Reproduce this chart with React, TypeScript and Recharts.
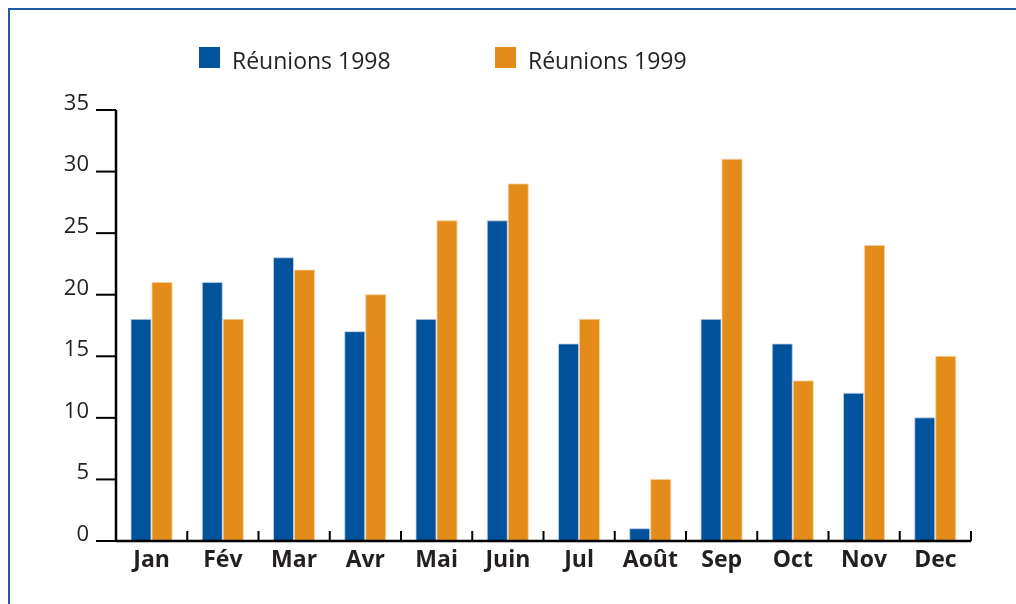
import { BarChart, Bar, XAxis, YAxis } from "recharts";

const months = ["Jan", "Fév", "Mar", "Avr", "Mai", "Juin", "Jul", "Août", "Sep", "Oct", "Nov", "Dec"];
const meetings1998 = [18, 21, 23, 17, 18, 26, 16, 1, 18, 16, 12, 10];
const meetings1999 = [21, 18, 22, 20, 26, 29, 18, 5, 31, 13, 24, 15];
const yTicks = [0, 5, 10, 15, 20, 25, 30, 35];
const seriesNames = ["Réunions 1998", "Réunions 1999"];

const BLUE = "#00529b";
const ORANGE = "#e38c1a";
const INK = "#231f20";
const FONT = "'Open Sans', sans-serif";

const data = months.map((m, i) => ({
  month: m,
  y1998: meetings1998[i],
  y1999: meetings1999[i],
}));

// month label plus the little upward tick at the right edge of each band
function MonthTick(props: any) {
  const { x, y, payload } = props;
  const half = payload?.offset ?? 35.6;
  const axisY = y - 4;
  return (
    <g>
      <line x1={x + half} y1={axisY} x2={x + half} y2={axisY - 10} stroke="#000" strokeWidth={2} />
      <text x={x} y={axisY + 26} textAnchor="middle" fill={INK} fontFamily={FONT} fontWeight={700} fontSize={23}>
        {payload.value}
      </text>
    </g>
  );
}

function LegendBox() {
  const colors = [BLUE, ORANGE];
  return (
    <div
      style={{
        position: "absolute",
        left: 191,
        top: 38,
        display: "flex",
        fontFamily: FONT,
        fontSize: 23,
        color: INK,
      }}
    >
      {seriesNames.map((name, i) => (
        <div key={name} style={{ display: "flex", alignItems: "center", width: 296, height: 22 }}>
          <span style={{ display: "inline-block", width: 21, height: 21, background: colors[i], marginRight: 12 }} />
          <span style={{ lineHeight: "22px", position: "relative", top: 3 }}>{name}</span>
        </div>
      ))}
    </div>
  );
}

export default function App() {
  return (
    <div style={{ position: "relative", width: 1000, height: 590 }}>
      {/* frame: only its top and left edges fall inside the picture */}
      <div
        style={{
          position: "fixed",
          left: 8,
          top: 8,
          right: -20,
          bottom: -20,
          borderTop: "2px solid #1f5aa6",
          borderLeft: "2px solid #1f5aa6",
          pointerEvents: "none",
        }}
      />
      <LegendBox />
      <BarChart
        width={1000}
        height={590}
        data={data}
        margin={{ top: 102, right: 37, bottom: 17, left: 68 }}
        barCategoryGap={15}
        barGap={1}
      >
        <XAxis
          dataKey="month"
          tick={<MonthTick />}
          tickLine={false}
          tickSize={0}
          tickMargin={4}
          axisLine={{ stroke: "#000", strokeWidth: 2.5 }}
          interval={0}
          height={40}
        />
        <YAxis
          domain={[0, 35]}
          ticks={yTicks}
          interval={0}
          width={40}
          tickSize={20}
          tickMargin={7}
          axisLine={{ stroke: "#000", strokeWidth: 2.5 }}
          tickLine={{ stroke: "#000", strokeWidth: 2 }}
          tick={{ fill: INK, fontFamily: FONT, fontSize: 22, dy: -8 }}
        />
        <Bar dataKey="y1998" name={seriesNames[0]} fill={BLUE} stroke="#c9d6ea" strokeWidth={0.8} isAnimationActive={false} />
        <Bar dataKey="y1999" name={seriesNames[1]} fill={ORANGE} stroke="#f3d2a6" strokeWidth={0.8} isAnimationActive={false} />
      </BarChart>
    </div>
  );
}
